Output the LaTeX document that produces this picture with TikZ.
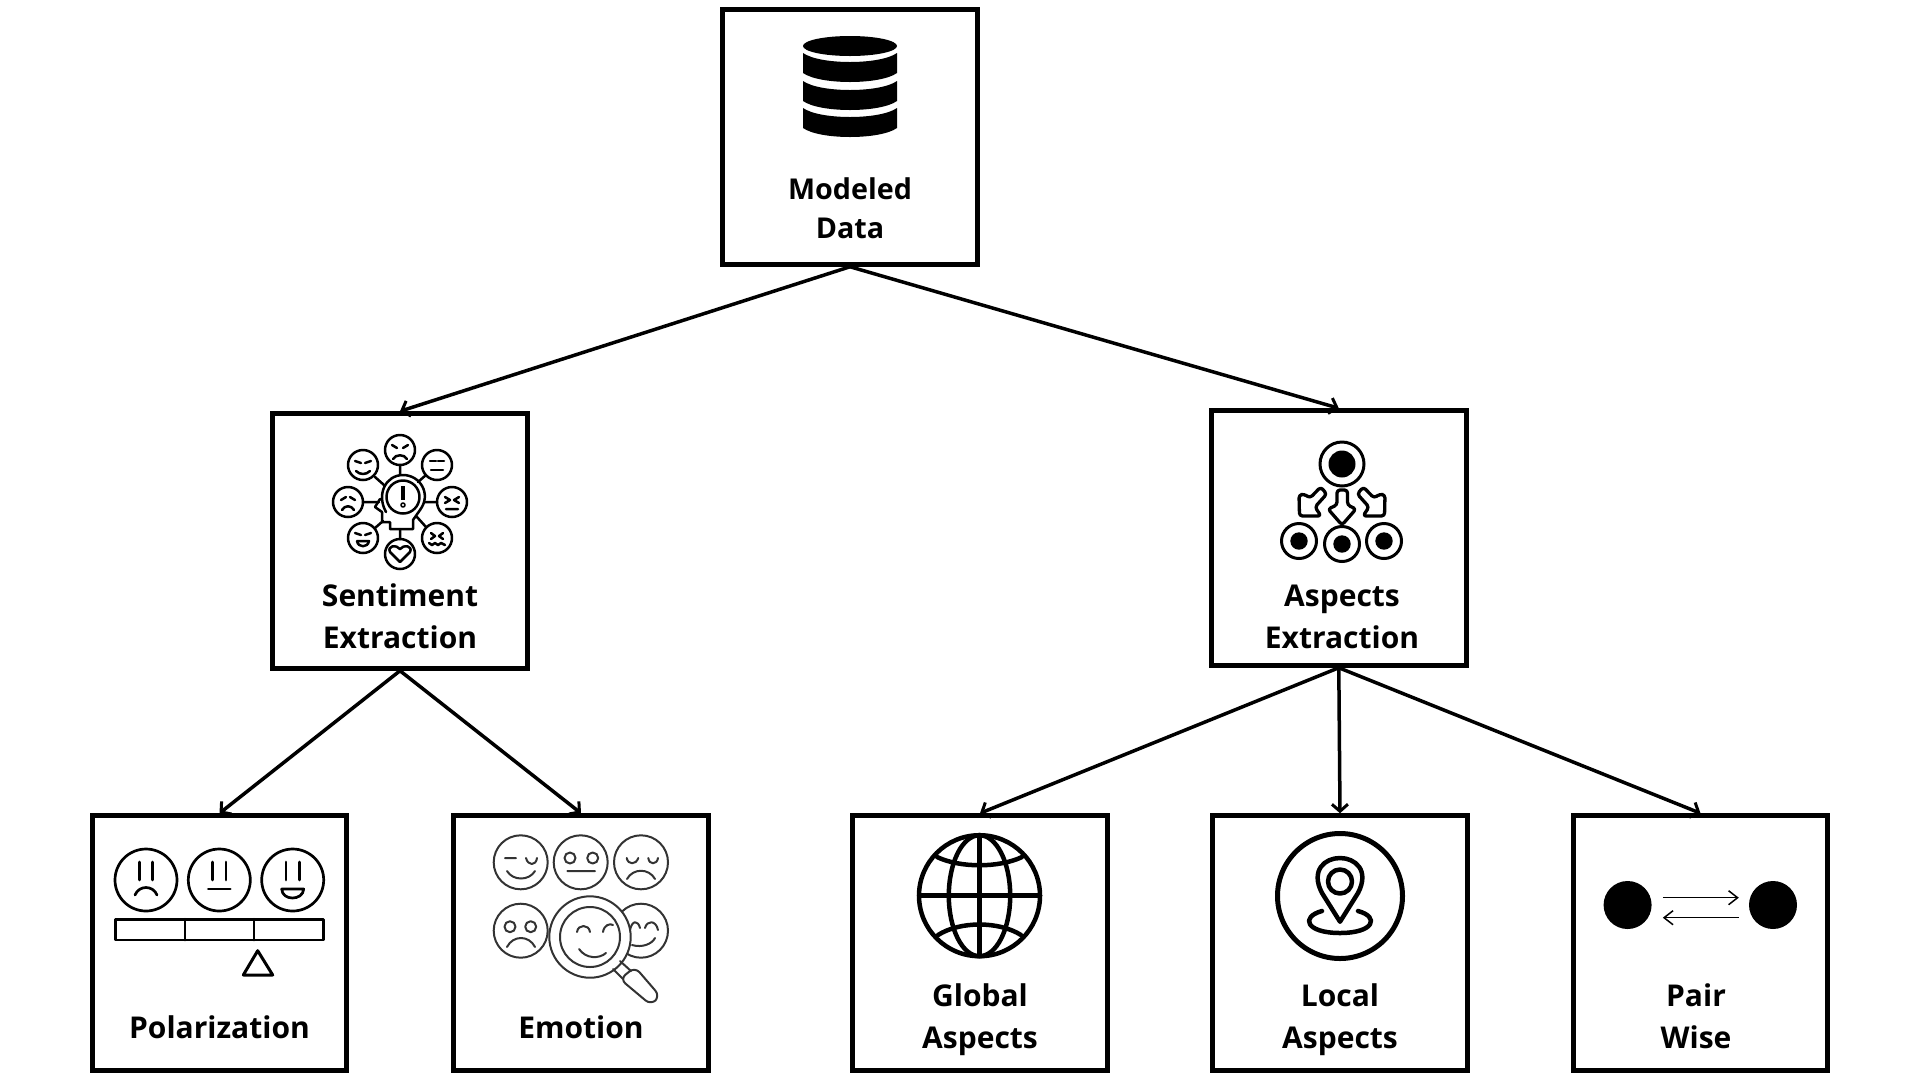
\documentclass[tikz,border=0pt]{standalone}
\usepackage{fontspec}
\setmainfont{Open Sans}
\usepackage{xcolor}
\usetikzlibrary{arrows.meta, calc}
\definecolor{emotiongray}{HTML}{333333}
\tikzset{
    box/.style={draw, line width=5pt, minimum size=254.5pt, inner sep=0pt},
    label/.style={font=\fontsize{30}{42}\selectfont\bfseries, align=center, inner sep=0pt},
    titlelabel/.style={font=\fontsize{28.7}{39}\selectfont\bfseries, align=center, inner sep=0pt},
    link/.style={line width=3.5pt, -{Straight Barb[length=7pt, width=16pt, line width=3pt]}},
    thinlink/.style={line width=1.5pt, -{Straight Barb[length=9pt, width=14pt, line width=1.5pt]}},
    fineline/.style={line width=2.5pt, line cap=round, line join=round},
    scaleline/.style={line width=2.7pt, line cap=round, line join=round},
    grayline/.style={line width=2pt, line cap=round, line join=round, draw=emotiongray},
    boldline/.style={line width=4.5pt, line cap=round, line join=round},
    dot/.style={circle, fill=black, minimum size=48pt, inner sep=0pt}
}
\begin{document}
\begin{tikzpicture}[x=1pt, y=-1pt]
    \useasboundingbox (0,0) rectangle (1920,1080);

    % Boxes
    \node[box] (modeled) at (850,137) {};
    \node[box] (sentiment) at (400,541) {};
    \node[box] (aspects) at (1338.8,538) {};
    \node[box] (polarization) at (219.5,943) {};
    \node[box] (emotion) at (581,943) {};
    \node[box] (global) at (980,943) {};
    \node[box] (local) at (1340,943) {};
    \node[box] (pair) at (1700.5,943) {};

    % Labels
    \node[titlelabel] (modeledtext) at (850,208.5) {Modeled\\Data};
    \node[label] (sentimenttext) at (400,616.5) {Sentiment\\Extraction};
    \node[label] (aspectstext) at (1342,617) {Aspects\\Extraction};
    \node[label] (polarizationtext) at (219.5,1027) {Polarization};
    \node[label] (emotiontext) at (581,1027) {Emotion};
    \node[label] (globaltext) at (980,1019.5) {Global\\Aspects};
    \node[label] (localtext) at (1340,1019.5) {Local\\Aspects};
    \node[label] (pairtext) at (1696,1016.5) {Pair\\Wise};

    % Connectors
    \draw[link] (modeled.south) -- (sentiment.north);
    \draw[link] (modeled.south) -- (aspects.north);
    \draw[link] (sentiment.south) -- (polarization.north);
    \draw[link] (sentiment.south) -- (emotion.north);
    \draw[link] (aspects.south) -- (global.north);
    \draw[link] (aspects.south) -- (local.north);
    \draw[link] (aspects.south) -- (pair.north);

    % Database
    \fill (850,46) ellipse (47 and 10);
    \foreach \y in {53,81,108} {
        \fill (803,\y) .. controls (820,\y+12) and (880,\y+12) .. (897,\y)
            -- (897,\y+20) .. controls (880,\y+32) and (820,\y+32) .. (803,\y+20) -- cycle;
    }

    % Sentiment icon
    \foreach \x/\y in {400/450,363/465,437/465,348/502,452/502,363/538,437/538,400/554} {
        \draw[fineline] (\x,\y) circle (15);
    }
    \draw[fineline] (403,497) circle (16.5);
    \draw[fineline] (386,512) .. controls (376,494) and (386,475) .. (403,475)
        .. controls (420,475) and (432,494) .. (420,510) -- (413,520) -- (413,529) -- (390,529)
        -- (390,522) -- (382,522) -- (382,512) -- (375,507) -- (380,499);
    \draw[line width=3.5pt] (403,486) -- (403,500);
    \draw[fineline, line width=1.6pt] (403,505) circle (2);
    \draw[fineline] (363,502) -- (379,502) (425,502) -- (437,502) (400,465) -- (400,475) (400,529) -- (400,539)
        (375,477) -- (384,485) (418,482) -- (426,475) (375,528) -- (383,521) (417,517) -- (426,527);
    % top, corners and sides of the ring of faces
    \draw[fineline] (392,445) -- (397,448) (408,445) -- (403,448) (393,459) .. controls (396,454) and (404,454) .. (407,459);
    \draw[fineline] (355,461) -- (361,463) (371,461) -- (365,463) (356,471) .. controls (360,475) and (366,475) .. (370,471);
    \draw[fineline] (430,461) -- (436,461) (438,461) -- (444,461) (431,470) -- (443,470);
    \draw[fineline] (341,500) -- (346,497) (355,500) -- (350,497) (342,510) .. controls (345,505) and (351,505) .. (354,510);
    \draw[fineline] (445,497) -- (450,500) -- (445,503) (459,497) -- (454,500) -- (459,503) (446,509) -- (458,509);
    \draw[fineline] (355,533) -- (361,535) (371,533) -- (365,535) (357,541) -- (369,541) .. controls (368,548) and (358,548) .. (357,541);
    \draw[fineline] (431,533) -- (435,536) -- (431,539) (443,533) -- (439,536) -- (443,539) (429,543) -- (432,545) -- (435,543) -- (438,545) -- (441,543) -- (445,545);
    \draw[fineline] (400,562) -- (390,552) .. controls (387,546) and (396,544) .. (400,549)
        .. controls (404,544) and (413,546) .. (410,552) -- cycle;

    % Aspects icon
    \draw[line width=3pt] (1342,464) circle (22);
    \fill (1342,464) circle (13.5);
    \foreach \x/\y in {1299/541,1342/544,1384/541} {
        \draw[line width=3pt] (\x,\y) circle (17.5);
        \fill (\x,\y) circle (8.7);
    }
    \draw[fineline, line width=3.3pt, rounded corners=3pt] (1337,490) -- (1347.5,490) -- (1347.5,505) -- (1356,509)
        -- (1342,525) -- (1328,509) -- (1337,505) -- cycle;
    \draw[fineline, line width=3.3pt, rounded corners=3pt] (1320.7,487) -- (1326.7,494) -- (1315,507) -- (1321,516)
        -- (1299.5,516) -- (1299,495) -- (1304,494) -- (1310,498) -- cycle;
    \draw[fineline, line width=3.3pt, rounded corners=3pt] (1363.3,487) -- (1357.3,494) -- (1369,507) -- (1363,516)
        -- (1384.5,516) -- (1385,495) -- (1380,494) -- (1374,498) -- cycle;

    % Polarization icon
    \foreach \x in {146,219.3,292.7} {
        \draw[scaleline] (\x,880) circle (31);
        \draw[scaleline] (\x-6.7,862) -- (\x-6.7,880) (\x+6.7,862) -- (\x+6.7,880);
    }
    \draw[scaleline] (135,895) .. controls (139,885) and (153,885) .. (157,895);
    \draw[scaleline] (208.3,889) -- (230.3,889);
    \draw[scaleline] (281.7,889) -- (303.7,889) .. controls (303,901) and (282,901) .. (281.7,889) -- cycle;
    \draw[scaleline] (115.7,919.3) rectangle (323.3,940);
    \draw[scaleline] (185,919.3) -- (185,940) (254,919.3) -- (254,940);
    \draw[scaleline, line width=3pt] (257.7,950.7) -- (243.3,975) -- (272.7,975) -- cycle;

    % Emotion icon
    \foreach \x/\y in {520.7/862.3,580.7/862.3,641/862.3,520.7/930.7,641/930.7} {
        \draw[grayline] (\x,\y) circle (27);
    }
    \draw[grayline] (505,858) -- (516,858) (526,858) .. controls (528,866) and (536,866) .. (537,858)
        (507,871) .. controls (513,881) and (529,881) .. (535,871);
    \draw[grayline] (570,858) circle (5.5) (592.7,858) circle (5.5) (567.3,871) -- (595,871);
    \draw[grayline] (626.7,858) .. controls (628,865) and (636,865) .. (638.3,858)
        (648.3,858) .. controls (649,865) and (657,865) .. (658,858)
        (627,879) .. controls (633,868) and (649,868) .. (655,879);
    \draw[grayline] (510,926.7) circle (5.5) (530.7,926.7) circle (5.5)
        (507,947) .. controls (513,935) and (529,935) .. (535,947);
    \draw[grayline] (630,930) .. controls (632,920) and (638,920) .. (640,928)
        (645,928) .. controls (647,920) and (656,920) .. (658,930)
        (632,945) .. controls (642,948) and (652,944) .. (655,938);
    \draw[grayline, fill=white] (590,937) circle (40.7);
    \draw[grayline] (590,937) circle (30);
    \draw[grayline] (577,932) .. controls (578,924) and (589,924) .. (590,932)
        (603,932) .. controls (604,925) and (610,923) .. (613,925)
        (579,949) .. controls (586,959) and (599,959) .. (606,953);
    \draw[grayline] (620,961) -- (631,971) (613,969) -- (623,979);
    \draw[grayline, rounded corners=7pt] (635,967) -- (660,996) -- (651,1005) -- (620,979) -- cycle;

    % Globe
    \draw[boldline] (979.5,895.7) circle (60.5);
    \draw[boldline] (979.5,895.7) ellipse (30.7 and 60.5);
    \draw[boldline] (979.5,835.2) -- (979.5,956.2) (919,895.7) -- (1040,895.7);
    \draw[boldline] (937,857) .. controls (960,868) and (999,868) .. (1022,857);
    \draw[boldline] (938,935) .. controls (960,921) and (999,921) .. (1021,935);

    % Location pin
    \draw[line width=5pt] (1340,896) circle (62.5);
    \draw[boldline] (1340,921.7) -- (1322,893) .. controls (1310,870) and (1325,858) .. (1340,858)
        .. controls (1355,858) and (1370,870) .. (1358,893) -- cycle;
    \draw[boldline] (1340,881.5) circle (12);
    \draw[boldline] (1322,911) .. controls (1300,917) and (1306,933) .. (1340,933)
        .. controls (1374,933) and (1380,917) .. (1358,911);

    % Pair
    \node[dot] (pairleft) at (1627.6,905) {};
    \node[dot] (pairright) at (1773,905) {};
    \draw[thinlink] ([shift={(11,-7.3)}]pairleft.east) -- ([shift={(-10,-7.3)}]pairright.west);
    \draw[thinlink] ([shift={(-10,12.7)}]pairright.west) -- ([shift={(11,12.7)}]pairleft.east);
\end{tikzpicture}
\end{document}
